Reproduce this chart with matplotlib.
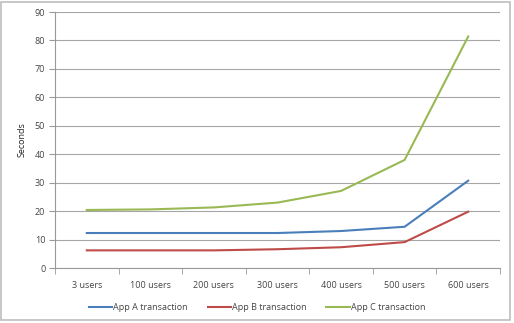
import matplotlib
matplotlib.use("Agg")
import matplotlib.pyplot as plt
from matplotlib.patches import Rectangle

categories = ["3 users", "100 users", "200 users", "300 users", "400 users", "500 users", "600 users"]
app_a = [12.3, 12.3, 12.3, 12.3, 13.0, 14.5, 30.7]
app_b = [6.2, 6.2, 6.2, 6.6, 7.3, 9.1, 19.8]
app_c = [20.4, 20.6, 21.3, 23.0, 27.1, 38.0, 81.4]
series_names = ["App A transaction", "App B transaction", "App C transaction"]
colors = ["#4a7ebb", "#be4b48", "#98b954"]

plt.rcParams['font.family'] = ['Open Sans', 'DejaVu Sans']
fig = plt.figure(figsize=(5.14, 3.23), dpi=100)
ax = fig.add_axes([55/514, 1-268/323, 445/514, 256/323])

x = list(range(len(categories)))
for vals, name, c in zip([app_a, app_b, app_c], series_names, colors):
    ax.plot(x, vals, color=c, lw=1.5, label=name, solid_joinstyle='round')

ax.set_xlim(-0.5, len(categories) - 0.5)
ax.set_ylim(0, 90)
ax.set_yticks(range(0, 91, 10))
ax.set_xticks(x)
ax.set_xticklabels(categories)
ax.set_xticks([i + 0.5 for i in range(-1, len(categories))], minor=True)
ax.tick_params(axis='x', which='major', length=0, pad=9, labelsize=6.5, colors='#444444')
ax.tick_params(axis='x', which='minor', length=4, color='#999999', direction='out')
ax.tick_params(axis='y', length=4, color='#999999', labelsize=6.5, colors='#444444', pad=3)
ax.grid(axis='y', color='#a6a6a6', lw=0.8)
ax.set_axisbelow(True)
for s in ['top', 'right']:
    ax.spines[s].set_visible(False)
for s in ['left', 'bottom']:
    ax.spines[s].set_color('#999999')
    ax.spines[s].set_linewidth(0.8)
ax.set_ylabel("Seconds", fontsize=6.5, color='#222222', labelpad=6)

leg = fig.legend(loc='center', bbox_to_anchor=(0.5, 1-308/323), ncol=3, frameon=False,
                 fontsize=6.5, handlelength=2.6, columnspacing=2.2, handletextpad=0.1,
                 borderaxespad=0, borderpad=0)
for t in leg.get_texts():
    t.set_color('#444444')

fig.patches.append(Rectangle((0.002, 0.01), 0.99, 0.985, transform=fig.transFigure,
                             fill=False, edgecolor='#bdbdbd', lw=1.2))
fig.savefig("out.png", dpi=100)
